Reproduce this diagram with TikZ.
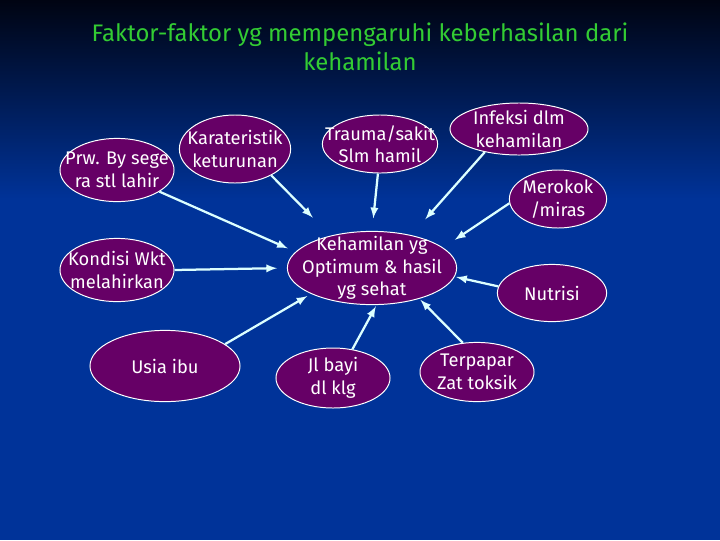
\documentclass[tikz,border=0pt]{standalone}
\usepackage{fontspec}
\setmainfont{Fira Sans}
\usetikzlibrary{shapes.geometric}
\definecolor{nightblue}{RGB}{0,4,18}
\definecolor{slideblue}{RGB}{0,51,153}
\definecolor{titlegreen}{RGB}{51,204,51}
\definecolor{plum}{RGB}{102,0,102}
\definecolor{paleaqua}{RGB}{220,255,255}

\tikzset{
  factor/.style={ellipse, draw=white, fill=plum, line width=0.7pt},
  every label/.style={text=white, align=center, font=\fontsize{13}{16}\selectfont},
  link/.style={-latex, draw=paleaqua, line width=1.6pt},
}

\begin{document}
\begin{tikzpicture}[x=0.025cm, y=-0.025cm]
        % slide background
        \useasboundingbox (0,0) rectangle (720,540);
        \fill[slideblue] (0,0) rectangle (720,540);
        \shade[top color=nightblue, bottom color=slideblue] (0,0) rectangle (720,200);

        \node[text=titlegreen, align=center, font=\fontsize{17}{20.6}\selectfont] (title) at (360,47)
            {Faktor-faktor yg mempengaruhi keberhasilan dari\\kehamilan};

        \node[factor, minimum width=2.85cm, minimum height=1.58cm, label={center:Prw. By sege\\ra stl lahir}]       (prw)     at (117,170) {};
        \node[factor, minimum width=2.78cm, minimum height=1.70cm, label={center:Karateristik\\keturunan}]           (kar)     at (235,149) {};
        \node[factor, minimum width=2.88cm, minimum height=1.45cm, label={center:Trauma/sakit\\Slm hamil}]           (trauma)  at (380,144) {};
        \node[factor, minimum width=3.45cm, minimum height=1.30cm, label={center:Infeksi dlm\\kehamilan}]            (infeksi) at (519,129) {};
        \node[factor, minimum width=2.43cm, minimum height=1.45cm, label={center:Merokok\\/miras}]                   (merokok) at (558,199) {};
        \node[factor, minimum width=2.73cm, minimum height=1.43cm, label={center:Nutrisi}]                           (nutrisi) at (552,293) {};
        \node[factor, minimum width=4.23cm, minimum height=1.83cm, label={center:Kehamilan yg\\Optimum \& hasil\\yg sehat}] (hamil) at (372,268) {};
        \node[factor, minimum width=2.85cm, minimum height=1.58cm, label={center:Kondisi Wkt\\melahirkan}]           (kondisi) at (117,270) {};
        \node[factor, minimum width=3.75cm, minimum height=1.78cm, label={center:Usia ibu}]                          (usia)    at (165,366) {};
        \node[factor, minimum width=2.85cm, minimum height=1.50cm, label={center:Jl bayi\\dl klg}]                   (bayi)    at (333,378) {};
        \node[factor, minimum width=2.85cm, minimum height=1.48cm, label={center:Terpapar\\Zat toksik}]              (toksik)  at (477,372) {};

        \draw[link, shorten >=6pt]  (prw.-27)     -- (hamil.168);
        \draw[link, shorten >=18pt] (kar.-36)     -- (hamil.142);
        \draw[link, shorten >=9pt]  (trauma.-94)  -- (hamil.90);
        \draw[link, shorten >=15pt] (infeksi.214) -- (hamil.40);
        \draw[link, shorten >=10pt] (merokok.185) -- (hamil.16);
        \draw[link, shorten >=1pt]  (nutrisi.173) -- (hamil.-6);
        \draw[link, shorten >=7pt]  (kondisi.0)   -- (hamil.180);
        \draw[link, shorten >=3pt]  (usia.20)     -- (hamil.203);
        \draw[link, shorten >=1pt]  (bayi.56)     -- (hamil.-83);
        \draw[link, shorten >=1pt]  (toksik.116)  -- (hamil.-33);
\end{tikzpicture}
\end{document}
